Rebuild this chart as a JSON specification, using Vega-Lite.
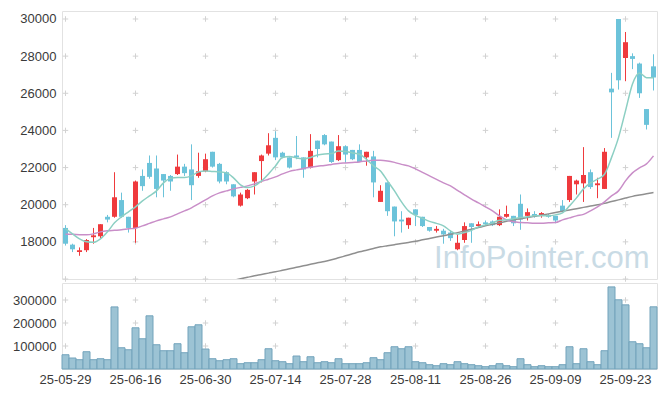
{
"$schema": "https://vega.github.io/schema/vega-lite/v6.json",
"padding": {"left": 12, "top": 10, "right": 9, "bottom": 5},
"background": "white",
"spacing": 4,
"bounds": "flush",
"config": {
  "font": "Liberation Sans",
  "view": {"stroke": "#e2e2e2"},
  "axis": {"labelFont": "Liberation Sans", "labelFontSize": 13, "labelColor": "#3a3a3a", "domain": false, "ticks": false, "grid": false, "title": null, "labelPadding": 6}
},
"datasets": {
  "px": [
    {"d":"25-05-29","o":18750,"h":18900,"l":17800,"c":17900,"v":62000,"m5":18700,"m20":18415,"m60":null},
    {"d":"25-05-30","o":17850,"h":17900,"l":17450,"c":17600,"v":47800,"m5":18431,"m20":18404,"m60":null},
    {"d":"25-06-02","o":17450,"h":17700,"l":17250,"c":17550,"v":40400,"m5":18162,"m20":18388,"m60":null},
    {"d":"25-06-04","o":17550,"h":18150,"l":17450,"c":18100,"v":75100,"m5":18000,"m20":18377,"m60":null},
    {"d":"25-06-05","o":18250,"h":18750,"l":17900,"c":18350,"v":40400,"m5":17973,"m20":18431,"m60":null},
    {"d":"25-06-09","o":18300,"h":18950,"l":18200,"c":18950,"v":44700,"m5":18162,"m20":18538,"m60":null},
    {"d":"25-06-10","o":19350,"h":19450,"l":19050,"c":19200,"v":40400,"m5":18538,"m20":18592,"m60":null},
    {"d":"25-06-11","o":19350,"h":21750,"l":19300,"c":20400,"v":270000,"m5":19023,"m20":18619,"m60":null},
    {"d":"25-06-12","o":20250,"h":20650,"l":19300,"c":19350,"v":92400,"m5":19346,"m20":18646,"m60":null},
    {"d":"25-06-13","o":19350,"h":19350,"l":18500,"c":18750,"v":83700,"m5":19615,"m20":18700,"m60":null},
    {"d":"25-06-16","o":18750,"h":21300,"l":17950,"c":21250,"v":179200,"m5":19884,"m20":18737,"m60":null},
    {"d":"25-06-17","o":21550,"h":21900,"l":20750,"c":21000,"v":131500,"m5":20207,"m20":18862,"m60":null},
    {"d":"25-06-18","o":22250,"h":22650,"l":21400,"c":21500,"v":231300,"m5":20476,"m20":18996,"m60":null},
    {"d":"25-06-19","o":21950,"h":22650,"l":20400,"c":20850,"v":105500,"m5":20745,"m20":19130,"m60":null},
    {"d":"25-06-20","o":21650,"h":21650,"l":20400,"c":21300,"v":79500,"m5":21175,"m20":19238,"m60":null},
    {"d":"25-06-23","o":21550,"h":21600,"l":20750,"c":21250,"v":79500,"m5":21417,"m20":19346,"m60":null},
    {"d":"25-06-24","o":21650,"h":22700,"l":21600,"c":22050,"v":109900,"m5":21460,"m20":19507,"m60":null},
    {"d":"25-06-25","o":22050,"h":22200,"l":21550,"c":21700,"v":70800,"m5":21460,"m20":19668,"m60":null},
    {"d":"25-06-26","o":21900,"h":23250,"l":20250,"c":21050,"v":183600,"m5":21552,"m20":19830,"m60":null},
    {"d":"25-06-27","o":21550,"h":22800,"l":21450,"c":21800,"v":192300,"m5":21767,"m20":20045,"m60":null},
    {"d":"25-06-30","o":21800,"h":22750,"l":21750,"c":22450,"v":86800,"m5":21821,"m20":20261,"m60":null},
    {"d":"25-07-01","o":22850,"h":22850,"l":22000,"c":22050,"v":44700,"m5":21794,"m20":20476,"m60":null},
    {"d":"25-07-02","o":22200,"h":22250,"l":21150,"c":21250,"v":36000,"m5":21767,"m20":20637,"m60":null},
    {"d":"25-07-03","o":21750,"h":21800,"l":21100,"c":21250,"v":40400,"m5":21713,"m20":20745,"m60":null},
    {"d":"25-07-04","o":21100,"h":21100,"l":20400,"c":20450,"v":44700,"m5":21444,"m20":20853,"m60":15929},
    {"d":"25-07-07","o":19950,"h":20650,"l":19900,"c":20550,"v":23100,"m5":21068,"m20":20933,"m60":16009},
    {"d":"25-07-08","o":20350,"h":20850,"l":20300,"c":20800,"v":27300,"m5":20922,"m20":21014,"m60":16090},
    {"d":"25-07-09","o":21250,"h":21750,"l":20550,"c":21750,"v":27300,"m5":21014,"m20":21121,"m60":16170},
    {"d":"25-07-10","o":22350,"h":22700,"l":21200,"c":22650,"v":40400,"m5":21283,"m20":21256,"m60":16241},
    {"d":"25-07-11","o":22750,"h":23850,"l":22650,"c":23200,"v":88100,"m5":21659,"m20":21374,"m60":16316},
    {"d":"25-07-14","o":23600,"h":23950,"l":22400,"c":22550,"v":36000,"m5":22090,"m20":21498,"m60":16386},
    {"d":"25-07-15","o":22800,"h":22850,"l":22500,"c":22550,"v":31700,"m5":22547,"m20":21659,"m60":16467},
    {"d":"25-07-16","o":22550,"h":22550,"l":21950,"c":22000,"v":23100,"m5":22590,"m20":21794,"m60":16547},
    {"d":"25-07-17","o":22650,"h":23700,"l":22450,"c":22550,"v":56400,"m5":22520,"m20":21875,"m60":16628},
    {"d":"25-07-18","o":22550,"h":22550,"l":21450,"c":21900,"v":31700,"m5":22466,"m20":21955,"m60":16709},
    {"d":"25-07-21","o":22000,"h":23800,"l":21950,"c":22900,"v":53300,"m5":22547,"m20":22020,"m60":16789},
    {"d":"25-07-22","o":23450,"h":23450,"l":22550,"c":23000,"v":27300,"m5":22681,"m20":22074,"m60":16870},
    {"d":"25-07-23","o":23750,"h":23800,"l":23200,"c":23250,"v":31700,"m5":22735,"m20":22117,"m60":16940},
    {"d":"25-07-24","o":23400,"h":23400,"l":22250,"c":22300,"v":27300,"m5":22751,"m20":22171,"m60":17032},
    {"d":"25-07-25","o":22400,"h":23750,"l":22350,"c":23150,"v":44700,"m5":22897,"m20":22225,"m60":17139},
    {"d":"25-07-28","o":23150,"h":23200,"l":22250,"c":22700,"v":23100,"m5":22870,"m20":22252,"m60":17247},
    {"d":"25-07-29","o":22950,"h":22950,"l":22400,"c":22450,"v":23100,"m5":22789,"m20":22279,"m60":17355},
    {"d":"25-07-30","o":22950,"h":23250,"l":22300,"c":22300,"v":23100,"m5":22719,"m20":22305,"m60":17462},
    {"d":"25-07-31","o":22550,"h":22850,"l":22100,"c":22850,"v":27300,"m5":22439,"m20":22359,"m60":17553},
    {"d":"25-08-01","o":22600,"h":22900,"l":20400,"c":21200,"v":49100,"m5":22090,"m20":22397,"m60":17645},
    {"d":"25-08-04","o":20150,"h":21050,"l":20150,"c":20750,"v":40400,"m5":21821,"m20":22397,"m60":17731},
    {"d":"25-08-05","o":21200,"h":21200,"l":19400,"c":19650,"v":70800,"m5":21283,"m20":22359,"m60":17790},
    {"d":"25-08-06","o":19900,"h":19900,"l":18300,"c":19100,"v":96800,"m5":20745,"m20":22279,"m60":17850},
    {"d":"25-08-07","o":19200,"h":19650,"l":18500,"c":19100,"v":88100,"m5":20153,"m20":22171,"m60":17909},
    {"d":"25-08-08","o":18900,"h":19300,"l":18700,"c":19300,"v":96800,"m5":19668,"m20":22090,"m60":17968},
    {"d":"25-08-11","o":19750,"h":19750,"l":18850,"c":19450,"v":31700,"m5":19426,"m20":21929,"m60":18027},
    {"d":"25-08-12","o":19350,"h":19350,"l":18800,"c":18850,"v":27300,"m5":19265,"m20":21740,"m60":18108},
    {"d":"25-08-13","o":18800,"h":18800,"l":18550,"c":18600,"v":18700,"m5":19104,"m20":21552,"m60":18184},
    {"d":"25-08-14","o":18600,"h":18850,"l":18500,"c":18700,"v":14300,"m5":18996,"m20":21364,"m60":18259},
    {"d":"25-08-18","o":18600,"h":18700,"l":17900,"c":18400,"v":23100,"m5":18862,"m20":21175,"m60":18334},
    {"d":"25-08-19","o":18500,"h":18600,"l":18050,"c":18200,"v":18700,"m5":18592,"m20":21014,"m60":18404},
    {"d":"25-08-20","o":17600,"h":18400,"l":17550,"c":17950,"v":31700,"m5":18415,"m20":20772,"m60":18496},
    {"d":"25-08-21","o":18100,"h":19050,"l":17950,"c":18850,"v":23100,"m5":18501,"m20":20529,"m60":18587},
    {"d":"25-08-22","o":19000,"h":19000,"l":17950,"c":18800,"v":18700,"m5":18619,"m20":20298,"m60":18679},
    {"d":"25-08-25","o":18850,"h":19100,"l":18750,"c":18950,"v":14300,"m5":18807,"m20":20099,"m60":18770},
    {"d":"25-08-26","o":19050,"h":19150,"l":18900,"c":18950,"v":10000,"m5":18915,"m20":19884,"m60":18862},
    {"d":"25-08-27","o":19100,"h":19150,"l":18850,"c":18900,"v":14300,"m5":19023,"m20":19668,"m60":18942},
    {"d":"25-08-28","o":18900,"h":19750,"l":18850,"c":19350,"v":23100,"m5":19157,"m20":19399,"m60":19023},
    {"d":"25-08-29","o":19350,"h":19950,"l":19300,"c":19500,"v":14300,"m5":19184,"m20":19184,"m60":19104},
    {"d":"25-09-01","o":19400,"h":19400,"l":18850,"c":19000,"v":10000,"m5":19238,"m20":19077,"m60":19184},
    {"d":"25-09-02","o":20050,"h":20550,"l":18650,"c":19200,"v":44700,"m5":19308,"m20":19039,"m60":19249},
    {"d":"25-09-03","o":19400,"h":19800,"l":19150,"c":19600,"v":18700,"m5":19346,"m20":19023,"m60":19314},
    {"d":"25-09-04","o":19500,"h":19650,"l":19300,"c":19350,"v":10000,"m5":19400,"m20":19007,"m60":19378},
    {"d":"25-09-05","o":19450,"h":19600,"l":19300,"c":19550,"v":14300,"m5":19400,"m20":19007,"m60":19443},
    {"d":"25-09-08","o":19450,"h":19500,"l":19300,"c":19350,"v":10000,"m5":19400,"m20":19023,"m60":19507},
    {"d":"25-09-09","o":19400,"h":19400,"l":19000,"c":19150,"v":10000,"m5":19453,"m20":19039,"m60":19577},
    {"d":"25-09-10","o":19950,"h":20250,"l":19650,"c":19650,"v":18700,"m5":19561,"m20":19184,"m60":19647},
    {"d":"25-09-11","o":20250,"h":21550,"l":20150,"c":21550,"v":96800,"m5":19937,"m20":19292,"m60":19717},
    {"d":"25-09-12","o":21100,"h":21350,"l":20550,"c":21300,"v":23100,"m5":20367,"m20":19399,"m60":19787},
    {"d":"25-09-15","o":21150,"h":23100,"l":20150,"c":21600,"v":88100,"m5":20853,"m20":19480,"m60":19857},
    {"d":"25-09-16","o":21750,"h":21900,"l":20850,"c":20950,"v":31700,"m5":21175,"m20":19668,"m60":19927},
    {"d":"25-09-17","o":21050,"h":21450,"l":20350,"c":21150,"v":18700,"m5":21374,"m20":19884,"m60":19997},
    {"d":"25-09-18","o":20850,"h":23050,"l":20850,"c":22850,"v":79500,"m5":21643,"m20":20153,"m60":20072},
    {"d":"25-09-19","o":26250,"h":27100,"l":23600,"c":26050,"v":357000,"m5":22536,"m20":20476,"m60":20169},
    {"d":"25-09-22","o":30000,"h":30000,"l":26200,"c":26700,"v":301000,"m5":23613,"m20":20745,"m60":20261},
    {"d":"25-09-23","o":27900,"h":29300,"l":26650,"c":28750,"v":279000,"m5":25050,"m20":21283,"m60":20358},
    {"d":"25-09-24","o":28000,"h":28150,"l":27300,"c":27850,"v":118500,"m5":26502,"m20":21713,"m60":20449},
    {"d":"25-09-25","o":27600,"h":27650,"l":25750,"c":26000,"v":109900,"m5":27094,"m20":21982,"m60":20519},
    {"d":"25-09-26","o":25150,"h":25150,"l":24050,"c":24300,"v":92400,"m5":26841,"m20":22197,"m60":20584},
    {"d":"25-09-29","o":27450,"h":28100,"l":26150,"c":26850,"v":270400,"m5":26841,"m20":22628,"m60":20654}
  ],
  "gridTop": [
    {"d":"25-05-29","p":[16000,18000,20000,22000,24000,26000,28000,30000]},
    {"d":"25-06-16","p":[16000,18000,20000,22000,24000,26000,28000,30000]},
    {"d":"25-06-30","p":[16000,18000,20000,22000,24000,26000,28000,30000]},
    {"d":"25-07-14","p":[16000,18000,20000,22000,24000,26000,28000,30000]},
    {"d":"25-07-28","p":[16000,18000,20000,22000,24000,26000,28000,30000]},
    {"d":"25-08-11","p":[16000,18000,20000,22000,24000,26000,28000,30000]},
    {"d":"25-08-26","p":[16000,18000,20000,22000,24000,26000,28000,30000]},
    {"d":"25-09-09","p":[16000,18000,20000,22000,24000,26000,28000,30000]},
    {"d":"25-09-23","p":[16000,18000,20000,22000,24000,26000,28000,30000]}
  ],
  "gridVol": [
    {"d":"25-05-29","p":[100000,200000,300000]},
    {"d":"25-06-16","p":[100000,200000,300000]},
    {"d":"25-06-30","p":[100000,200000,300000]},
    {"d":"25-07-14","p":[100000,200000,300000]},
    {"d":"25-07-28","p":[100000,200000,300000]},
    {"d":"25-08-11","p":[100000,200000,300000]},
    {"d":"25-08-26","p":[100000,200000,300000]},
    {"d":"25-09-09","p":[100000,200000,300000]},
    {"d":"25-09-23","p":[100000,200000,300000]}
  ]
},
"vconcat": [
  {
    "width": 595,
    "height": 268,
    "data": {"name": "px"},
    "layer": [
      {
        "data": {"values": [{}]},
        "mark": {"type": "text", "text": "InfoPointer.com", "align": "right", "baseline": "alphabetic", "fontSize": 31, "font": "Liberation Sans", "color": "#c9dbe5", "dx": -4},
        "encoding": {
          "x": {"datum": "25-09-29", "type": "ordinal", "scale": {"type": "band", "paddingInner": 0, "paddingOuter": 0}, "axis": null},
          "y": {"datum": 16600, "type": "quantitative"}
        }
      },
      {
        "data": {"name": "gridTop"},
        "transform": [{"flatten": ["p"]}],
        "mark": {"type": "point", "shape": "M-1,0L1,0M0,-1L0,1", "size": 30, "filled": false, "stroke": "#d2d2d2", "strokeWidth": 1, "opacity": 1},
        "encoding": {
          "x": {"field": "d", "type": "ordinal", "scale": {"type": "band", "paddingInner": 0, "paddingOuter": 0}, "axis": null},
          "y": {"field": "p", "type": "quantitative"}
        }
      },
      {
        "mark": {"type": "rule", "strokeWidth": 1},
        "encoding": {
          "x": {"field": "d", "type": "ordinal", "scale": {"type": "band", "paddingInner": 0, "paddingOuter": 0}, "axis": null},
          "y": {"field": "l", "type": "quantitative", "scale": {"domain": [16000, 30430], "nice": false, "zero": false}, "axis": {"values": [18000, 20000, 22000, 24000, 26000, 28000, 30000], "format": "d"}},
          "y2": {"field": "h"},
          "color": {"condition": {"test": "datum.c >= datum.o", "value": "#ef3a3d"}, "value": "#6cc3da"}
        }
      },
      {
        "mark": {"type": "bar", "width": {"band": 0.72}},
        "encoding": {
          "x": {"field": "d", "type": "ordinal", "scale": {"type": "band", "paddingInner": 0, "paddingOuter": 0}, "axis": null},
          "y": {"field": "o", "type": "quantitative"},
          "y2": {"field": "c"},
          "color": {"condition": {"test": "datum.c >= datum.o", "value": "#ef3a3d"}, "value": "#6cc3da"}
        }
      },
      {
        "mark": {"type": "line", "color": "#8f8f8f", "strokeWidth": 1.5, "clip": true, "interpolate": "monotone"},
        "encoding": {
          "x": {"field": "d", "type": "ordinal", "scale": {"type": "band", "paddingInner": 0, "paddingOuter": 0}, "axis": null},
          "y": {"field": "m60", "type": "quantitative"}
        }
      },
      {
        "mark": {"type": "line", "color": "#c98ec8", "strokeWidth": 1.5, "interpolate": "monotone"},
        "encoding": {
          "x": {"field": "d", "type": "ordinal", "scale": {"type": "band", "paddingInner": 0, "paddingOuter": 0}, "axis": null},
          "y": {"field": "m20", "type": "quantitative"}
        }
      },
      {
        "mark": {"type": "line", "color": "#8ccfc3", "strokeWidth": 1.5, "interpolate": "monotone"},
        "encoding": {
          "x": {"field": "d", "type": "ordinal", "scale": {"type": "band", "paddingInner": 0, "paddingOuter": 0}, "axis": null},
          "y": {"field": "m5", "type": "quantitative"}
        }
      }
    ]
  },
  {
    "width": 595,
    "height": 86,
    "layer": [
      {
        "data": {"name": "gridVol"},
        "transform": [{"flatten": ["p"]}],
        "mark": {"type": "point", "shape": "M-1,0L1,0M0,-1L0,1", "size": 30, "filled": false, "stroke": "#d2d2d2", "strokeWidth": 1, "opacity": 1},
        "encoding": {
          "x": {"field": "d", "type": "ordinal", "scale": {"type": "band", "paddingInner": 0, "paddingOuter": 0}},
          "y": {"field": "p", "type": "quantitative"}
        }
      },
      {
        "data": {"name": "px"},
        "mark": {"type": "bar", "fill": "#9cc3d4", "stroke": "#72a3bb", "strokeWidth": 1},
        "encoding": {
          "x": {"field": "d", "type": "ordinal", "scale": {"type": "band", "paddingInner": 0, "paddingOuter": 0}, "axis": {"values": ["25-05-29", "25-06-16", "25-06-30", "25-07-14", "25-07-28", "25-08-11", "25-08-26", "25-09-09", "25-09-23"], "labelAngle": 0, "labelAlign": "center", "labelBaseline": "top", "labelPadding": 4}},
          "y": {"field": "v", "type": "quantitative", "scale": {"domain": [0, 374000], "nice": false}, "axis": {"values": [100000, 200000, 300000], "format": "d"}}
        }
      }
    ]
  }
]
}
